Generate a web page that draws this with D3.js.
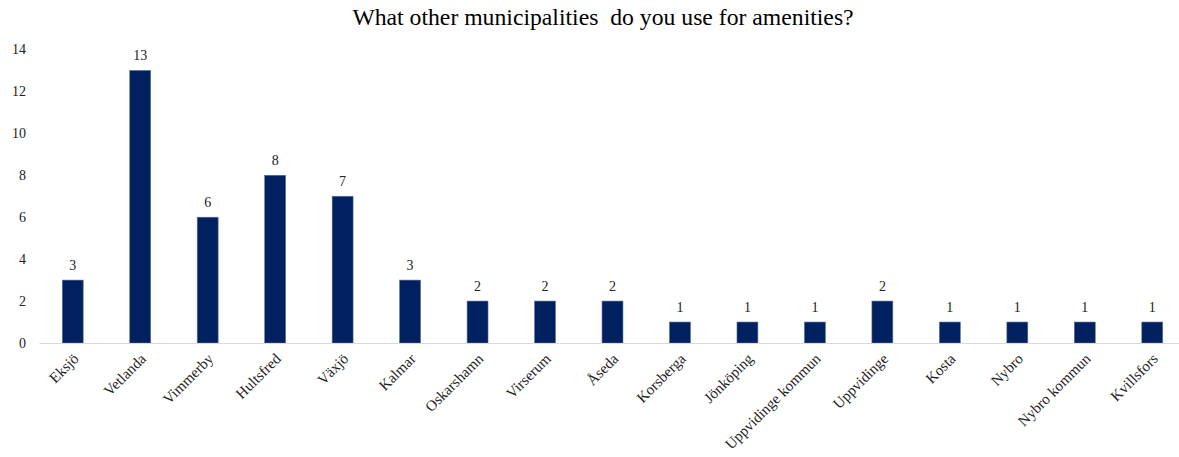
<!DOCTYPE html>
<html>
<head>
<meta charset="utf-8">
<script src="https://cdn.jsdelivr.net/npm/d3@7"></script>
<style>
  html, body { margin: 0; padding: 0; background: #fff; }
  svg text { font-family: "Liberation Serif", "Times New Roman", serif; }
</style>
</head>
<body>
<svg id="chart" width="1179" height="457"></svg>
<script>
// Municipalities named by respondents and how many mentioned each
const categories = ["Eksjö", "Vetlanda", "Vimmerby", "Hultsfred", "Växjö", "Kalmar", "Oskarshamn",
  "Virserum", "Åseda", "Korsberga", "Jönköping", "Uppvidinge kommun", "Uppvidinge", "Kosta",
  "Nybro", "Nybro kommun", "Kvillsfors"];
const counts = [3, 13, 6, 8, 7, 3, 2, 2, 2, 1, 1, 1, 2, 1, 1, 1, 1];
const yTicks = [0, 2, 4, 6, 8, 10, 12, 14];
const title = "What other municipalities  do you use for amenities?";

const serif = "Liberation Serif, Times New Roman, serif";
const svg = d3.select("#chart").attr("font-family", serif);
const plot = { left: 39, right: 1186, top: 49.5, bottom: 343 };

const x = d3.scaleBand()
  .domain(categories)
  .range([plot.left, plot.right])
  .paddingInner(0.69)
  .paddingOuter(0.345);

const y = d3.scaleLinear()
  .domain([0, 14])
  .range([plot.bottom, plot.top]);

// Title
svg.append("text")
  .attr("x", 603)
  .attr("y", 25)
  .attr("text-anchor", "middle")
  .attr("font-family", serif)
  .attr("font-size", 23.7)
  .attr("fill", "#000")
  .attr("xml:space", "preserve")
  .style("white-space", "pre")
  .text(title);

// Y axis: labels only, no line or ticks
const yAxis = svg.append("g")
  .attr("transform", `translate(${plot.left},0)`)
  .call(d3.axisLeft(y).tickValues(yTicks).tickSize(0).tickPadding(13));
yAxis.attr("font-family", serif);
yAxis.select(".domain").remove();
yAxis.selectAll("text")
  .attr("font-size", 14)
  .attr("fill", "#222");

// Bars
svg.append("g")
  .selectAll("rect")
  .data(categories)
  .join("rect")
  .attr("x", d => x(d))
  .attr("width", x.bandwidth())
  .attr("y", (d, i) => y(counts[i]))
  .attr("height", (d, i) => y(0) - y(counts[i]))
  .attr("fill", "#002060")
  .attr("stroke", "#5a6f9a")
  .attr("stroke-width", 0.6);

// Value labels above bars
svg.append("g")
  .selectAll("text")
  .data(categories)
  .join("text")
  .attr("x", d => x(d) + x.bandwidth() / 2)
  .attr("y", (d, i) => y(counts[i]) - 10)
  .attr("text-anchor", "middle")
  .attr("font-family", serif)
  .attr("font-size", 14)
  .attr("fill", "#222")
  .text((d, i) => counts[i]);

// X axis: baseline plus rotated category labels
const xAxis = svg.append("g")
  .attr("transform", `translate(0,${plot.bottom})`)
  .call(d3.axisBottom(x).tickSize(0).tickPadding(0));
xAxis.attr("font-family", serif);
xAxis.select(".domain")
  .attr("stroke", "#d9d9d9")
  .attr("stroke-width", 1.2);
xAxis.selectAll(".tick text")
  .attr("font-size", 15)
  .attr("fill", "#222")
  .attr("text-anchor", "end")
  .attr("dy", "0.35em")
  .attr("transform", "translate(3,13) rotate(-45)");
</script>
</body>
</html>
